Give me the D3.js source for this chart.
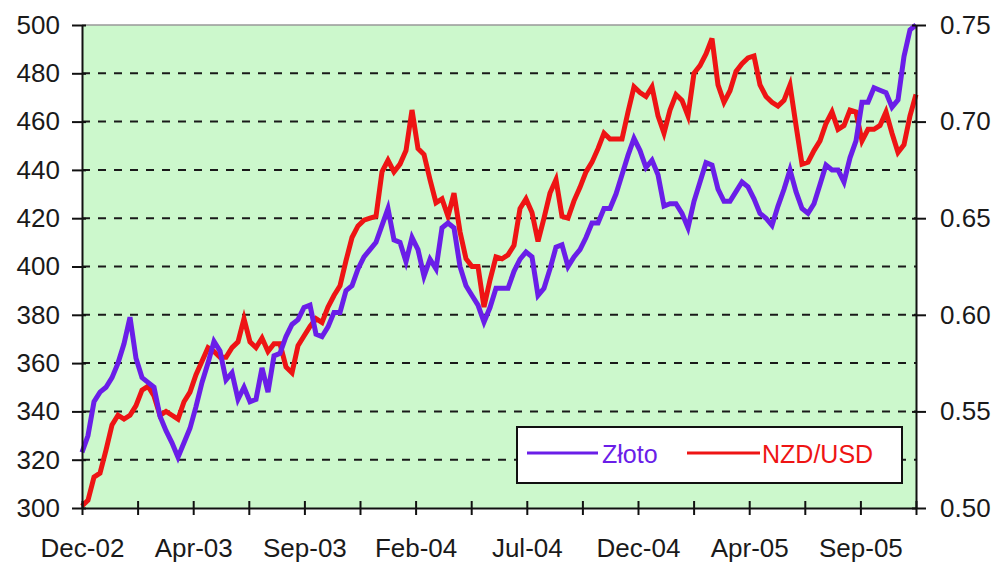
<!DOCTYPE html>
<html>
<head>
<meta charset="utf-8">
<script src="https://cdn.jsdelivr.net/npm/d3@7"></script>
<style>
  html, body { margin: 0; padding: 0; background: #ffffff; }
  svg { display: block; }
  text { font-family: "Liberation Sans", Arial, sans-serif; }
</style>
</head>
<body>
<svg id="chart" width="994" height="563"></svg>
<script>
// ---- DATA ----
const xLabels = ["Dec-02", "Apr-03", "Sep-03", "Feb-04", "Jul-04", "Dec-04", "Apr-05", "Sep-05"];
const leftTicks = [300, 320, 340, 360, 380, 400, 420, 440, 460, 480, 500];
const rightTicks = [0.50, 0.55, 0.60, 0.65, 0.70, 0.75];
const seriesNames = ["Złoto", "NZD/USD"];

const zloto = [
  323, 330, 344, 348, 350, 354, 360, 368, 379, 362,
  354, 352, 350, 338, 332, 327, 321, 327, 333, 342,
  352, 360, 369, 365, 353, 356, 345, 350, 344, 345,
  358, 348, 363, 364, 371, 376, 378, 383, 384, 372,
  371, 375, 381, 381, 390, 392, 399, 404, 407, 410,
  417, 424, 411, 410, 402, 412, 407, 396, 403, 399,
  416, 418, 416, 400, 392, 388, 384, 377, 383, 391,
  391, 391, 398, 403, 406, 404, 388, 391, 399, 408,
  409, 400, 404, 407, 412, 418, 418, 424, 424, 430,
  438, 446, 453, 448, 441, 444, 438, 425, 426, 426,
  422, 416, 427, 435, 443, 442, 432, 427, 427, 431,
  435, 433, 428, 422, 420, 417, 425, 432, 440, 431,
  424, 422, 426, 434, 442, 440, 440, 435, 445, 452,
  468, 468, 474, 473, 472, 466, 469, 487, 498, 500
];

const nzdusd = [
  0.501, 0.504, 0.516, 0.518, 0.530, 0.543, 0.548, 0.546, 0.548, 0.553,
  0.561, 0.563, 0.558, 0.548, 0.550, 0.548, 0.546, 0.555, 0.560, 0.569,
  0.576, 0.583, 0.581, 0.578, 0.578, 0.583, 0.586, 0.598, 0.586, 0.583,
  0.588, 0.581, 0.585, 0.585, 0.573, 0.570, 0.584, 0.589, 0.594, 0.598,
  0.596, 0.604, 0.610, 0.615, 0.628, 0.640, 0.646, 0.649, 0.650, 0.651,
  0.674, 0.680, 0.674, 0.678, 0.685, 0.706, 0.686, 0.683, 0.670, 0.658,
  0.660, 0.651, 0.663, 0.643, 0.629, 0.625, 0.625, 0.604, 0.618, 0.630,
  0.629, 0.631, 0.636, 0.655, 0.660, 0.653, 0.638, 0.650, 0.663, 0.670,
  0.651, 0.650, 0.659, 0.666, 0.674, 0.679, 0.686, 0.694, 0.691, 0.691,
  0.691, 0.705, 0.718, 0.715, 0.713, 0.718, 0.703, 0.694, 0.706, 0.714,
  0.711, 0.703, 0.725, 0.729, 0.735, 0.743, 0.719, 0.710, 0.716, 0.726,
  0.730, 0.733, 0.734, 0.719, 0.713, 0.710, 0.708, 0.711, 0.719, 0.698,
  0.678, 0.679, 0.685, 0.690, 0.699, 0.705, 0.696, 0.698, 0.706, 0.705,
  0.690, 0.696, 0.696, 0.698, 0.705, 0.694, 0.684, 0.688, 0.703, 0.714
];

// ---- LAYOUT ----
const plot = { left: 82, right: 916, top: 25, bottom: 508 };
const colZloto = "#6a1ee8";
const colNzd = "#ee1414";
const fontSize = 26;

const svg = d3.select("#chart");
const N = zloto.length;
const x = d3.scaleLinear().domain([0, N - 1]).range([plot.left, plot.right]);
const yL = d3.scaleLinear().domain([300, 500]).range([plot.bottom, plot.top]);
const yR = d3.scaleLinear().domain([0.5, 0.75]).range([plot.bottom, plot.top]);

// background
svg.append("rect")
  .attr("x", plot.left).attr("y", plot.top)
  .attr("width", plot.right - plot.left).attr("height", plot.bottom - plot.top)
  .attr("fill", "#ccf8cc");

// top border
svg.append("line")
  .attr("x1", plot.left).attr("x2", plot.right)
  .attr("y1", plot.top).attr("y2", plot.top)
  .attr("stroke", "#999").attr("stroke-width", 1.5);

// gridlines
svg.append("g").selectAll("line")
  .data(leftTicks.filter(d => d > 300 && d < 500))
  .join("line")
  .attr("x1", plot.left).attr("x2", plot.right)
  .attr("y1", d => yL(d)).attr("y2", d => yL(d))
  .attr("stroke", "#1a1a1a").attr("stroke-width", 2)
  .attr("stroke-dasharray", "8,8");

// x tick positions: 16 ticks, labels every second
const nTicks = 15;
const xTickVals = d3.range(nTicks + 1).map(k => k * (N - 1) / nTicks);

// lines
const lineL = d3.line().x((d, i) => x(i)).y(d => yL(d));
const lineR = d3.line().x((d, i) => x(i)).y(d => yR(d));

svg.append("path").datum(nzdusd)
  .attr("d", lineR).attr("fill", "none")
  .attr("stroke", colNzd).attr("stroke-width", 5).attr("stroke-linejoin", "miter");
svg.append("path").datum(zloto)
  .attr("d", lineL).attr("fill", "none")
  .attr("stroke", colZloto).attr("stroke-width", 5).attr("stroke-linejoin", "miter");

// axes
function styleAxis(g) {
  g.select(".domain").attr("stroke", "#111").attr("stroke-width", 2);
  g.selectAll(".tick line").attr("stroke", "#111").attr("stroke-width", 2);
  g.selectAll(".tick text").attr("fill", "#1a1a1a")
    .style("font-size", fontSize + "px")
    .style("font-family", "'Liberation Sans', Arial, sans-serif");
}

const gL = svg.append("g").attr("transform", `translate(${plot.left},0)`)
  .call(d3.axisLeft(yL).tickValues(leftTicks).tickFormat(d3.format("d"))
    .tickSizeInner(10).tickSizeOuter(0).tickPadding(12));
styleAxis(gL);
gL.selectAll(".tick line").attr("x2", -10).attr("x1", 4);

const gR = svg.append("g").attr("transform", `translate(${plot.right},0)`)
  .call(d3.axisRight(yR).tickValues(rightTicks).tickFormat(d3.format(".2f"))
    .tickSizeInner(10).tickSizeOuter(0).tickPadding(14));
styleAxis(gR);
gR.selectAll(".tick line").attr("x1", -4).attr("x2", 10);

const gB = svg.append("g").attr("transform", `translate(0,${plot.bottom})`)
  .call(d3.axisBottom(x).tickValues(xTickVals)
    .tickFormat((d, i) => i % 2 === 0 && xLabels[i / 2] ? xLabels[i / 2] : "")
    .tickSizeInner(7).tickSizeOuter(0).tickPadding(24));
styleAxis(gB);
gB.selectAll(".tick line").attr("y1", -7).attr("y2", 7);

// legend
const lg = svg.append("g");
lg.append("rect")
  .attr("x", 517).attr("y", 427).attr("width", 385).attr("height", 56)
  .attr("fill", "#ffffff").attr("stroke", "#111").attr("stroke-width", 2);
const legendItems = [
  { name: seriesNames[0], color: colZloto, x1: 527, x2: 598, tx: 602 },
  { name: seriesNames[1], color: colNzd, x1: 687, x2: 760, tx: 762 }
];
legendItems.forEach(it => {
  lg.append("line").attr("x1", it.x1).attr("x2", it.x2)
    .attr("y1", 453).attr("y2", 453)
    .attr("stroke", it.color).attr("stroke-width", 3);
  lg.append("text").attr("x", it.tx).attr("y", 463)
    .attr("fill", it.color).style("font-size", "25px")
    .text(it.name);
});
</script>
</body>
</html>
